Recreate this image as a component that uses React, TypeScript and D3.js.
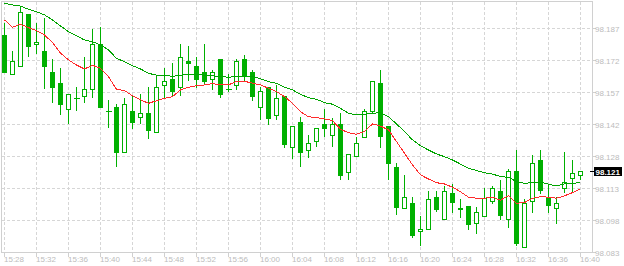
import React from "react";
import * as d3 from "d3";

// ---- data ----
const xTickLabels = ["15:28","15:32","15:36","15:40","15:44","15:48","15:52","15:56","16:00","16:04","16:08","16:12","16:16","16:20","16:24","16:28","16:32","16:36","16:40"];
const yTickValues = [98.0832, 98.098, 98.1128, 98.1276, 98.1424, 98.1572, 98.172, 98.1868];

const opens = [98.1837,98.1655,98.1692,98.1934,98.1794,98.1763,98.1666,98.1615,98.1494,98.1544,
98.1554,98.1586,98.1795,98.1486,98.1503,98.1295,98.1486,98.1457,98.1475,98.1387,
98.1605,98.1634,98.1595,98.1717,98.1694,98.1666,98.1632,98.1726,98.1586,98.1605,
98.1726,98.1666,98.1503,98.1595,98.1466,98.1554,98.1318,98.1433,98.1304,98.1346,
98.1424,98.1373,98.1424,98.1205,98.1276,98.1364,98.1484,98.1614,98.1415,98.1225,
98.1036,98.1059,98.0929,98.0939,98.1087,98.0985,98.1105,98.1036,98.1045,98.0966,
98.0999,98.1068,98.1114,98.0985,98.1207,98.0855,98.1068,98.1258,98.1087,98.1036,
98.1128,98.1174,98.1188];
const highs = [98.1891,98.1763,98.1968,98.1934,98.1894,98.1914,98.1726,98.1684,98.1563,98.1595,
98.1735,98.1863,98.1873,98.1537,98.1519,98.1544,98.1560,98.1563,98.1595,98.1649,
98.1683,98.1706,98.1796,98.1786,98.1737,98.1796,98.1675,98.1726,98.1657,98.1726,
98.1745,98.1675,98.1595,98.1595,98.1605,98.1554,98.1415,98.1457,98.1375,98.1406,
98.1494,98.1452,98.1475,98.1285,98.1367,98.1494,98.1623,98.1675,98.1415,98.1244,
98.1191,98.1087,98.0999,98.1114,98.1114,98.1137,98.1147,98.1077,98.1045,98.1040,
98.1128,98.1137,98.1165,98.1216,98.1304,98.1077,98.1281,98.1304,98.1147,98.1087,
98.1295,98.1258,98.1207];
const lows = [98.1665,98.1655,98.1692,98.1741,98.1753,98.1593,98.1526,98.1473,98.1432,98.1492,
98.1526,98.1552,98.1503,98.1413,98.1233,98.1295,98.1406,98.1432,98.1362,98.1387,
98.1552,98.1555,98.1560,98.1629,98.1595,98.1614,98.1586,98.1552,98.1580,98.1586,
98.1623,98.1537,98.1447,98.1424,98.1447,98.1318,98.1267,98.1233,98.1274,98.1325,
98.1370,98.1325,98.1173,98.1173,98.1276,98.1364,98.1478,98.1318,98.1173,98.1008,
98.1036,98.0904,98.0867,98.0939,98.1025,98.0985,98.1017,98.0997,98.0939,98.0920,
98.0999,98.1059,98.0985,98.0948,98.0867,98.0855,98.1017,98.1105,98.1017,98.0966,
98.1110,98.1110,98.1170];
const closes = [98.1667,98.1716,98.1942,98.1788,98.1803,98.1695,98.1598,98.1519,98.1563,98.1544,
98.1586,98.1795,98.1506,98.1486,98.1297,98.1517,98.1436,98.1475,98.1399,98.1595,
98.1623,98.1580,98.1734,98.1709,98.1635,98.1626,98.1665,98.1566,98.1586,98.1717,
98.1646,98.1556,98.1577,98.1452,98.1544,98.1332,98.1415,98.1297,98.1336,98.1406,
98.1408,98.1424,98.1191,98.1285,98.1336,98.1484,98.1623,98.1369,98.1247,98.1040,
98.1087,98.0911,98.0939,98.1077,98.1031,98.1114,98.1063,98.1031,98.0962,98.1017,
98.1082,98.1128,98.1003,98.1207,98.0874,98.1059,98.1244,98.1119,98.1051,98.1059,
98.1156,98.1197,98.1207];
const maFast = [98.1907,98.1873,98.1887,98.1871,98.1857,98.1837,98.1802,98.1753,98.1722,98.1698,
98.1680,98.1697,98.1683,98.1644,98.1586,98.1580,98.1556,98.1537,98.1521,98.1533,
98.1544,98.1552,98.1583,98.1595,98.1603,98.1606,98.1612,98.1607,98.1606,98.1623,
98.1623,98.1614,98.1606,98.1591,98.1575,98.1552,98.1521,98.1482,98.1459,98.1455,
98.1449,98.1441,98.1401,98.1385,98.1378,98.1390,98.1426,98.1416,98.1398,98.1344,
98.1290,98.1236,98.1190,98.1171,98.1154,98.1148,98.1133,98.1112,98.1087,98.1082,
98.1082,98.1087,98.1073,98.1094,98.1059,98.1062,98.1082,98.1089,98.1087,98.1082,
98.1093,98.1108,98.1125];
const maSlow = [98.1984,98.1976,98.1971,98.1956,98.1945,98.1930,98.1907,98.1879,98.1852,98.1833,
98.1814,98.1806,98.1791,98.1768,98.1729,98.1714,98.1695,98.1680,98.1660,98.1651,
98.1651,98.1646,98.1651,98.1655,98.1655,98.1651,98.1648,98.1644,98.1642,98.1644,
98.1646,98.1644,98.1635,98.1621,98.1614,98.1595,98.1583,98.1563,98.1547,98.1540,
98.1524,98.1517,98.1498,98.1475,98.1467,98.1470,98.1475,98.1478,98.1459,98.1426,
98.1390,98.1352,98.1325,98.1305,98.1287,98.1274,98.1259,98.1240,98.1221,98.1210,
98.1200,98.1194,98.1182,98.1179,98.1159,98.1151,98.1154,98.1156,98.1147,98.1139,
98.1148,98.1151,98.1154];

const W = 624, H = 266;
const plot = { left: 1.5, top: 1.5, right: 592.5, bottom: 252.5 };
const CANDLE = "#00b000";
const GREEN_MA = "#00a400";
const RED_MA = "#ff2b2b";
const GRID = "#d6d6d6";
const BORDER = "#d0d0d0";
const LABEL = "#bcbcbc";
const FONT = "'Liberation Sans', Arial, sans-serif";

const parseT = d3.timeParse("%H:%M");
const t0 = parseT(xTickLabels[0]) as Date;
const t1 = parseT(xTickLabels[xTickLabels.length - 1]) as Date;
const candleTimes = opens.map((_, i) => d3.timeMinute.offset(t0, i));

const x = d3.scaleTime().domain([t0, t1]).range([4.5, 580.5]);
const y = d3.scaleLinear().domain([98.0832, 98.1868]).range([252.3, 28.3]);
const fmt = d3.format(".3f");

export default function App() {
  const lineGen = (vals: number[]) =>
    d3.line<number>().x((_, i) => x(candleTimes[i])).y((v) => y(v))(vals) || "";

  const lastClose = closes[closes.length - 1];
  const lastY = Math.floor(y(lastClose)) + 0.5;

  return (
    <svg width={W} height={H} style={{ position: "absolute", left: 0, top: 0, background: "#fff" }}>
      <rect x={0} y={0} width={W} height={H} fill="#fff" />
      {/* grid */}
      <g shapeRendering="crispEdges">
        {yTickValues.slice(1).map((v, i) => {
          const yy = Math.floor(y(v)) + 0.5;
          return <line key={"hg" + i} x1={plot.left} x2={plot.right} y1={yy} y2={yy} stroke={GRID} strokeDasharray="3,2" />;
        })}
        {xTickLabels.map((lab, i) => {
          const xx = Math.floor(x(parseT(lab) as Date)) + 0.5;
          return (
            <g key={"vg" + i}>
              <line x1={xx} x2={xx} y1={plot.top} y2={plot.bottom} stroke={GRID} strokeDasharray="3,2" />
              <line x1={xx} x2={xx} y1={plot.bottom} y2={plot.bottom + 4} stroke={BORDER} />
            </g>
          );
        })}
        <rect x={plot.left} y={plot.top} width={plot.right - plot.left} height={plot.bottom - plot.top} fill="none" stroke={BORDER} />
        {yTickValues.map((v, i) => {
          const yy = Math.floor(y(v)) + 0.5;
          return <line key={"yt" + i} x1={plot.right} x2={plot.right + 3} y1={yy} y2={yy} stroke={BORDER} />;
        })}
      </g>

      {/* axis labels */}
      <g fontFamily={FONT} fontSize={8} fill={LABEL}>
        {yTickValues.map((v, i) => (
          <text key={"yl" + i} x={595} y={Math.floor(y(v)) + 3.5}>{fmt(v)}</text>
        ))}
        {xTickLabels.map((lab, i) => (
          <text key={"xl" + i} x={Math.floor(x(parseT(lab) as Date))} y={262}>{lab}</text>
        ))}
      </g>

      {/* candles */}
      <g shapeRendering="crispEdges">
        {opens.map((o, i) => {
          const c = closes[i];
          const cx = Math.floor(x(candleTimes[i])) + 0.5;
          const yh = Math.round(y(highs[i]));
          const yl = Math.round(y(lows[i]));
          const yTop = Math.round(y(Math.max(o, c)));
          const yBot = Math.round(y(Math.min(o, c)));
          const bull = c > o;
          const doji = c === o;
          return (
            <g key={"c" + i}>
              <line x1={cx} x2={cx} y1={yh} y2={yl + 1} stroke={CANDLE} />
              {doji ? (
                <line x1={cx - 3} x2={cx + 3} y1={yTop + 0.5} y2={yTop + 0.5} stroke={CANDLE} />
              ) : bull ? (
                <rect x={cx - 2} y={yTop + 0.5} width={4} height={Math.max(1, yBot - yTop)} fill="#fff" stroke={CANDLE} />
              ) : (
                <rect x={cx - 2.5} y={yTop} width={5} height={Math.max(1, yBot - yTop + 1)} fill={CANDLE} />
              )}
            </g>
          );
        })}
      </g>

      {/* moving averages */}
      <path d={lineGen(maSlow)} fill="none" stroke={GREEN_MA} strokeWidth={1} shapeRendering="crispEdges" />
      <path d={lineGen(maFast)} fill="none" stroke={RED_MA} strokeWidth={1} shapeRendering="crispEdges" />

      {/* current price marker */}
      <g shapeRendering="crispEdges">
        <line x1={590} x2={595} y1={lastY} y2={lastY} stroke="#000" />
        <rect x={594} y={lastY - 4.5} width={28} height={9} fill="#000" />
      </g>
      <text x={595.5} y={lastY + 3} fontFamily={FONT} fontSize={8} fontWeight="bold" fill="#fff">{fmt(lastClose)}</text>
    </svg>
  );
}
